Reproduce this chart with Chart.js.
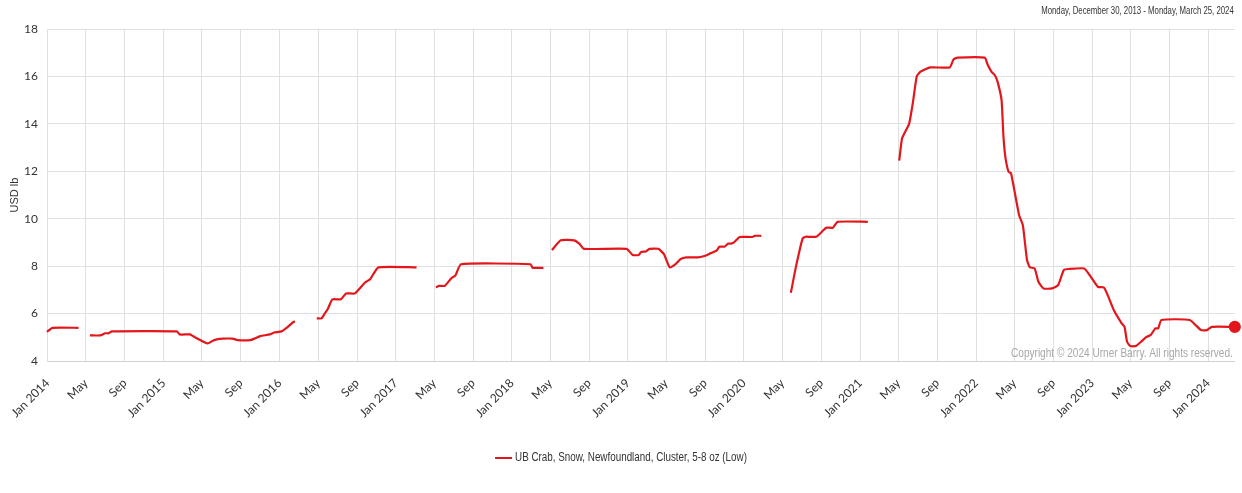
<!DOCTYPE html>
<html>
<head>
<meta charset="utf-8">
<script src="https://cdn.jsdelivr.net/npm/chart.js@4/dist/chart.umd.min.js"></script>
<style>
body { margin: 0; background: #fff; }
#wrap { width: 1242px; height: 493px; }
</style>
</head>
<body>
<div id="wrap"><canvas id="myChart"></canvas></div>
<script>
// weekly price, read at the turning points; null = no quote (gap in the line)
var dates = [
    "2013-12-30", "2014-01-16", "2014-04-08", "2014-04-25",
    "2014-05-14", "2014-06-16", "2014-07-01", "2014-07-12", "2014-07-22", "2015-02-12", "2015-02-20", "2015-03-25",
    "2015-04-03", "2015-05-19", "2015-06-09", "2015-07-06", "2015-08-06", "2015-08-22", "2015-10-01", "2015-10-15",
    "2015-11-01", "2015-12-01", "2015-12-15", "2016-01-07", "2016-01-25", "2016-02-09", "2016-02-18", "2016-03-20",
    "2016-04-27", "2016-05-12", "2016-05-22", "2016-06-01", "2016-06-15", "2016-07-12", "2016-07-28", "2016-08-25",
    "2016-09-25", "2016-10-12", "2016-11-07", "2017-03-07", "2017-04-01",
    "2017-05-07", "2017-05-16", "2017-06-04", "2017-06-25", "2017-07-07", "2017-07-25", "2018-03-01", "2018-03-07",
    "2018-04-10", "2018-04-24",
    "2018-05-07", "2018-06-04", "2018-07-16", "2018-08-01", "2018-08-16", "2018-12-28", "2019-01-16", "2019-02-04",
    "2019-02-12", "2019-02-26", "2019-03-10", "2019-04-07", "2019-04-25", "2019-05-04", "2019-05-13", "2019-06-01",
    "2019-06-16", "2019-07-04", "2019-08-10", "2019-09-04", "2019-09-19", "2019-10-07", "2019-10-16", "2019-11-01",
    "2019-11-13", "2019-11-22", "2019-12-01", "2019-12-19", "2020-01-28", "2020-02-04", "2020-02-25", "2020-04-01",
    "2020-05-28", "2020-06-13", "2020-07-04", "2020-07-13", "2020-08-16", "2020-09-16", "2020-10-07", "2020-10-22",
    "2021-01-25", "2021-03-01",
    "2021-05-04", "2021-05-13", "2021-06-04", "2021-06-16", "2021-06-28", "2021-07-10", "2021-08-10", "2021-10-10",
    "2021-10-22", "2021-11-03", "2022-01-28", "2022-02-06", "2022-02-18", "2022-03-01", "2022-03-10", "2022-03-22",
    "2022-03-28", "2022-04-03", "2022-04-13", "2022-04-21", "2022-05-16", "2022-05-28", "2022-06-10", "2022-06-19",
    "2022-07-04", "2022-07-16", "2022-08-01", "2022-08-28", "2022-09-16", "2022-10-04", "2022-10-19", "2022-12-07",
    "2022-12-28", "2023-01-19", "2023-02-07", "2023-02-19", "2023-03-10", "2023-04-04", "2023-04-13", "2023-04-21",
    "2023-05-01", "2023-05-19", "2023-06-04", "2023-06-19", "2023-07-04", "2023-07-19", "2023-07-28", "2023-08-07",
    "2023-11-04", "2023-12-10", "2023-12-28", "2024-01-13", "2024-03-25"
];
var prices = [
    5.23, 5.4, 5.4, null,
    5.08, 5.08, 5.17, 5.17, 5.25, 5.25, 5.12, 5.12,
    5.05, 4.74, 4.88, 4.94, 4.94, 4.88, 4.88, 4.95,
    5.05, 5.12, 5.2, 5.25, 5.42, 5.6, 5.68, null,
    5.8, 5.8, 6.0, 6.2, 6.6, 6.6, 6.85, 6.85,
    7.3, 7.45, 7.95, 7.95, null,
    7.1, 7.17, 7.17, 7.5, 7.6, 8.08, 8.08, 7.93,
    7.93, null,
    8.68, 9.09, 9.09, 8.95, 8.73, 8.73, 8.47, 8.47,
    8.6, 8.62, 8.73, 8.73, 8.5, 8.2, 7.95, 8.1,
    8.3, 8.37, 8.37, 8.45, 8.55, 8.65, 8.82, 8.82,
    8.95, 8.95, 9.0, 9.23, 9.23, 9.28, 9.28, null,
    6.88, 7.98, 9.17, 9.24, 9.24, 9.62, 9.62, 9.87,
    9.87, null,
    12.45, 13.39, 14.0, 14.9, 16.0, 16.2, 16.38, 16.38,
    16.72, 16.79, 16.79, 16.5, 16.2, 16.05, 15.75, 15.0,
    13.46, 12.6, 11.98, 11.91, 10.16, 9.73, 8.26, 7.95,
    7.91, 7.34, 7.06, 7.06, 7.2, 7.84, 7.88, 7.9,
    7.55, 7.13, 7.1, 6.78, 6.15, 5.59, 5.44, 4.81,
    4.63, 4.63, 4.81, 5.0, 5.09, 5.38, 5.38, 5.73,
    5.73, 5.3, 5.3, 5.44, 5.44
];
var seriesLabel = "UB Crab, Snow, Newfoundland, Cluster, 5-8 oz (Low)";
var rangeText = "Monday, December 30, 2013 - Monday, March 25, 2024";
var copyrightText = "Copyright \u00a9 2024 Urner Barry. All rights reserved.";
var yTitle = "USD lb";
var xStart = "2013-12-30";
var xEnd = "2024-03-25";
var monthNames = ["Jan", "Feb", "Mar", "Apr", "May", "Jun", "Jul", "Aug", "Sep", "Oct", "Nov", "Dec"];
var lineColor = "#e3171b";

function ts(s) {
    var p = s.split("-");
    return Date.UTC(+p[0], +p[1] - 1, +p[2]);
}

var points = [];
for (let i = 0; i < dates.length; i++) {
    points.push({ x: ts(dates[i]), y: prices[i] });
}
var lastIndex = points.length - 1;

// narrow text: squeeze horizontally, anchored at x
function narrowText(ctx, text, x, y, sx, align) {
    ctx.save();
    ctx.translate(x, y);
    ctx.scale(sx, 1);
    ctx.textAlign = align;
    ctx.fillText(text, 0, 0);
    ctx.restore();
}

var textPlugin = {
    id: "extraText",
    afterDraw: function (chart) {
        var ctx = chart.ctx;
        var area = chart.chartArea;
        ctx.save();
        ctx.fillStyle = "#333";
        ctx.font = "10px 'Liberation Sans', sans-serif";
        ctx.textBaseline = "middle";
        narrowText(ctx, rangeText, area.right - 1, 11, 0.78, "right");
        ctx.fillStyle = "#a8a8a8";
        ctx.font = "12px 'Liberation Sans', sans-serif";
        ctx.textBaseline = "bottom";
        narrowText(ctx, copyrightText, area.right - 2, area.bottom - 1, 0.84, "right");

        // legend
        var cx = chart.width / 2;
        var ly = 458;
        ctx.font = "12px 'Liberation Sans', sans-serif";
        ctx.fillStyle = "#333";
        ctx.textBaseline = "middle";
        var w = ctx.measureText(seriesLabel).width * 0.82;
        var left = cx - (w + 20) / 2;
        ctx.strokeStyle = lineColor;
        ctx.lineWidth = 2;
        ctx.beginPath();
        ctx.moveTo(left, ly);
        ctx.lineTo(left + 17, ly);
        ctx.stroke();
        narrowText(ctx, seriesLabel, left + 20, ly, 0.82, "left");
        ctx.restore();
    }
};

new Chart("myChart", {
    type: "line",
    data: {
        datasets: [{
            label: seriesLabel,
            data: points,
            borderColor: lineColor,
            backgroundColor: lineColor,
            borderWidth: 2.2,
            tension: 0.15,
            spanGaps: false,
            clip: false,
            pointRadius: function (c) { return c.dataIndex === lastIndex ? 5 : 0; },
            pointHoverRadius: 0
        }]
    },
    options: {
        responsive: true,
        maintainAspectRatio: false,
        animation: false,
        layout: { padding: { top: 29, right: 5, left: 0, bottom: 0 } },
        scales: {
            x: {
                type: "linear",
                min: ts(xStart),
                max: ts(xEnd),
                afterBuildTicks: function (axis) {
                    var t = [];
                    for (let m = 0; m <= 120; m += 4) {
                        t.push({ value: Date.UTC(2014, m, 1) });
                    }
                    axis.ticks = t;
                },
                afterFit: function (axis) {
                    axis.height = 132;
                    axis.paddingLeft = 0;
                },
                ticks: {
                    autoSkip: false,
                    maxRotation: 45,
                    minRotation: 45,
                    padding: 15,
                    color: "#333",
                    font: { family: "Lato, 'Liberation Sans', sans-serif", size: 12 },
                    callback: function (v) {
                        var d = new Date(v);
                        var m = d.getUTCMonth();
                        return m === 0 ? "Jan " + d.getUTCFullYear() : monthNames[m];
                    }
                },
                grid: { color: "#e0e0e0", drawTicks: false },
                border: { color: "#d0d0d0" }
            },
            y: {
                min: 4,
                max: 18,
                afterFit: function (axis) { axis.width = 47; },
                ticks: {
                    stepSize: 2,
                    padding: 9,
                    color: "#333",
                    font: { family: "Lato, 'Liberation Sans', sans-serif", size: 12 }
                },
                title: {
                    display: true,
                    text: yTitle,
                    color: "#333",
                    padding: { top: 8, bottom: 0 },
                    font: { family: "'Liberation Sans', Arial, sans-serif", size: 11 }
                },
                grid: { color: "#e0e0e0", drawTicks: false },
                border: { color: "#e0e0e0" }
            }
        },
        plugins: {
            legend: { display: false },
            tooltip: { enabled: false }
        }
    },
    plugins: [textPlugin]
});
</script>
</body>
</html>
